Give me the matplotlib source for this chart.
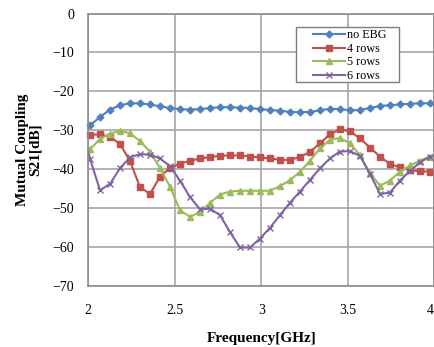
import matplotlib
matplotlib.use("Agg")
import matplotlib.pyplot as plt
from matplotlib.patches import Rectangle

# frequency points (GHz); first and last are the axis edges (no marker)
freq = [2.0, 2.010, 2.068, 2.126, 2.183, 2.241, 2.299, 2.357, 2.415, 2.473,
        2.530, 2.588, 2.646, 2.704, 2.762, 2.819, 2.877, 2.935, 2.993, 3.051,
        3.108, 3.166, 3.224, 3.282, 3.340, 3.397, 3.455, 3.513, 3.571, 3.629,
        3.687, 3.744, 3.802, 3.860, 3.918, 3.976, 4.0]

no_ebg = [-29.5, -28.8, -26.6, -24.7, -23.6, -23.1, -23.1, -23.4, -23.9, -24.3,
          -24.6, -24.7, -24.6, -24.3, -24.1, -24.1, -24.2, -24.3, -24.6, -24.8,
          -25.0, -25.3, -25.4, -25.3, -24.9, -24.5, -24.6, -24.9, -24.8, -24.3,
          -23.8, -23.6, -23.4, -23.2, -23.1, -23.1, -23.0]

rows4 = [-31.2, -31.2, -31.1, -31.7, -33.6, -37.9, -44.7, -46.4, -42.0, -39.7,
         -38.6, -37.9, -37.3, -36.9, -36.6, -36.5, -36.5, -36.8, -37.0, -37.3,
         -37.6, -37.7, -36.9, -35.6, -33.4, -31.1, -29.8, -30.3, -32.1, -34.5,
         -36.8, -38.7, -39.6, -40.3, -40.6, -40.7, -40.7]

rows5 = [-35.7, -34.9, -32.3, -30.9, -30.2, -30.8, -32.8, -35.6, -39.8, -44.6,
         -50.6, -52.3, -51.1, -48.7, -46.6, -45.8, -45.6, -45.6, -45.6, -45.6,
         -44.4, -42.9, -40.7, -37.9, -34.7, -32.5, -32.0, -33.4, -36.4, -41.1,
         -44.3, -43.0, -40.7, -39.1, -37.9, -36.8, -36.5]

rows6 = [-35.5, -37.4, -45.5, -43.8, -39.8, -37.0, -36.2, -36.3, -37.3, -39.3,
         -43.0, -47.2, -50.4, -50.2, -51.9, -56.2, -60.2, -60.2, -57.9, -55.1,
         -51.9, -48.7, -45.8, -42.8, -39.8, -37.3, -35.5, -35.4, -36.6, -41.3,
         -46.4, -46.1, -43.0, -40.5, -38.3, -36.8, -36.5]

labels = ["no EBG", "4 rows", "5 rows", "6 rows"]
xtick_labels = ["2", "2.5", "3", "3.5", "4"]

plt.rcParams["font.family"] = ["Liberation Serif", "DejaVu Serif"]

fig = plt.figure(figsize=(4.35, 3.47), dpi=100)
ax = fig.add_axes([0.203, 0.177, 0.795, 0.784])

styles = [
    (no_ebg, "#4F81BD", "D", 3.5),
    (rows4, "#C0504D", "s", 4.5),
    (rows5, "#9BBB59", "^", 4.5),
    (rows6, "#8064A2", "x", 4.5),
]
for (vals, col, mk, ms), lab in zip(styles, labels):
    ax.plot(freq, vals, color=col, lw=1.5, marker=mk, ms=ms,
            markevery=slice(1, -1), mew=1.0, label=lab, clip_on=False)

ax.set_xlim(2, 4)
ax.set_ylim(-70, 0)
ax.set_xticks([2, 2.5, 3, 3.5, 4])
ax.set_xticklabels(xtick_labels)
ax.get_xticklabels()[-1].set_horizontalalignment("right")
ax.set_yticks(range(-70, 1, 10))
ax.grid(True, color="#a6a6a6", lw=1.2)
ax.set_axisbelow(True)
for s in ax.spines.values():
    s.set_color("#8c8c8c")
    s.set_linewidth(1.2)
ax.tick_params(axis="y", length=0, pad=10, labelsize=10)
ax.tick_params(axis="x", length=0, pad=13, labelsize=10)

ax.set_xlabel("Frequency[GHz]", fontsize=11, fontweight="bold", labelpad=11)
ax.set_ylabel("Mutual Coupling\nS21[dB]", fontsize=11, fontweight="bold",
              labelpad=8, linespacing=0.95)

# legend box (Excel style, wide side padding)
ax.add_patch(Rectangle((0.601, 0.748), 0.298, 0.202, transform=ax.transAxes,
                       facecolor="white", edgecolor="#7f7f7f", lw=1.0,
                       zorder=4, clip_on=False))
leg = ax.legend(loc="upper left", bbox_to_anchor=(0.644, 0.948), fontsize=8.7,
                frameon=False, borderaxespad=0, handlelength=2.7,
                labelspacing=0.12, borderpad=0.15, handletextpad=0.15)
leg.set_zorder(5)

fig.savefig("out.png", dpi=100)
